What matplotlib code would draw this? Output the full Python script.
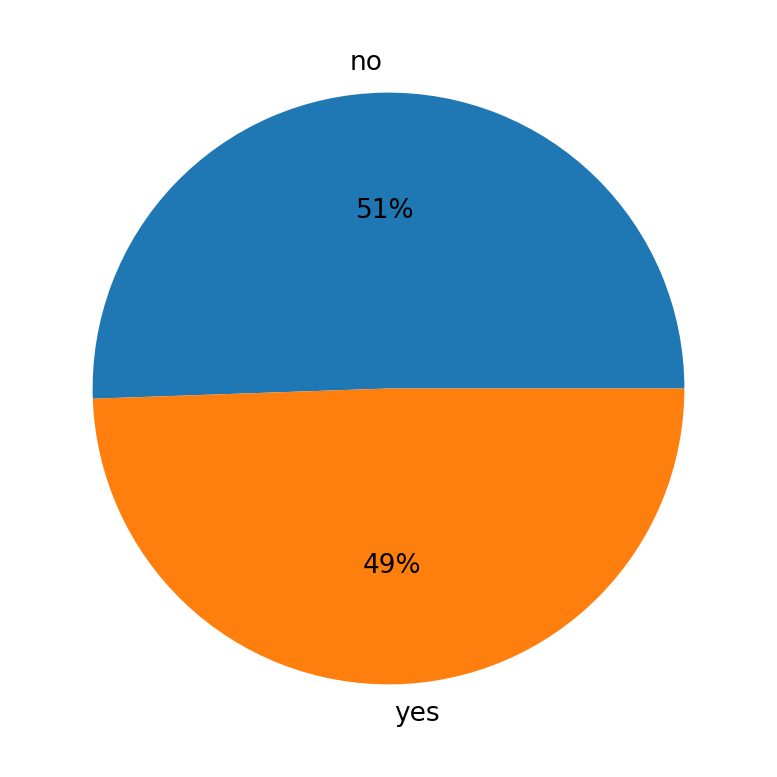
import matplotlib
matplotlib.use("Agg")
import matplotlib.pyplot as plt

labels = ["no", "yes"]
values = [50.55, 49.45]

fig = plt.figure(figsize=(7.77, 7.77), dpi=100)
ax = fig.add_axes([0.024, 0.024, 0.952, 0.952])
ax.pie(values, labels=labels, autopct="%1.0f%%", textprops={"fontsize": 19})
fig.savefig("out.png", dpi=100)
